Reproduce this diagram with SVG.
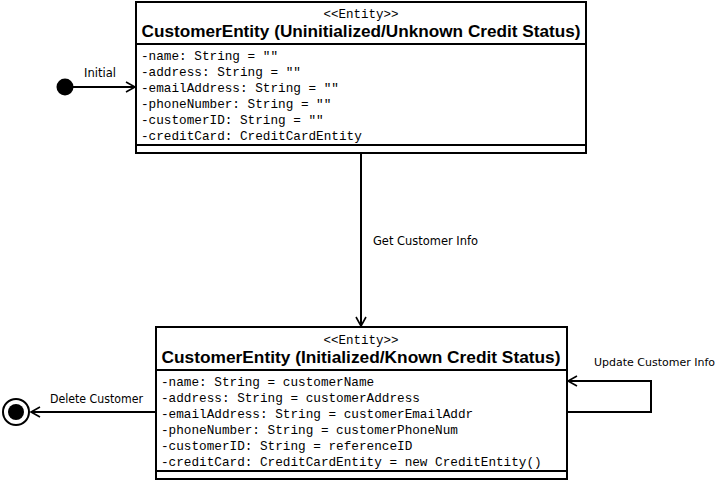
<svg xmlns="http://www.w3.org/2000/svg" width="721" height="481" viewBox="0 0 721 481">
<style>
.box{fill:#fff;stroke:#000;stroke-width:2}
.sep{stroke:#000;stroke-width:2}
.st{font-family:"Liberation Mono",monospace;font-size:12.5px;text-anchor:middle;fill:#000}
.ti{font-family:"Liberation Sans",Arial,sans-serif;font-size:17px;font-weight:bold;text-anchor:middle;fill:#000}
.at{font-family:"Liberation Mono",monospace;font-size:12.7px;fill:#000}
.lb{font-family:"DejaVu Sans","Liberation Sans",sans-serif;font-size:12px;fill:#000}
.cn{fill:none;stroke:#000;stroke-width:2}
</style>
<defs>
<marker id="arr" markerWidth="12" markerHeight="12" refX="10" refY="6" orient="auto" markerUnits="userSpaceOnUse">
<path d="M1,1 L10,6 L1,11" fill="none" stroke="#000" stroke-width="1.6"/>
</marker>
</defs>
<rect width="721" height="481" fill="#fff"/>
<g id="connectors">
<line class="cn" x1="73" y1="87" x2="135" y2="87" marker-end="url(#arr)"/>
<text class="lb" x="84" y="77" textLength="32" lengthAdjust="spacingAndGlyphs">Initial</text>
<line class="cn" x1="361" y1="153" x2="361" y2="326" marker-end="url(#arr)"/>
<text class="lb" x="373" y="245" textLength="105" lengthAdjust="spacingAndGlyphs">Get Customer Info</text>
<line class="cn" x1="156" y1="412" x2="31" y2="412" marker-end="url(#arr)"/>
<text class="lb" x="50" y="403" textLength="93" lengthAdjust="spacingAndGlyphs">Delete Customer</text>
<polyline class="cn" points="567,412 651,412 651,381 568,381" marker-end="url(#arr)"/>
<text class="lb" x="594" y="366" style="font-size:11px" textLength="121" lengthAdjust="spacingAndGlyphs">Update Customer Info</text>
</g>
<g id="initial">
<circle cx="65" cy="87" r="8.5" fill="#000"/>
</g>
<g id="final">
<circle cx="16" cy="412" r="13" fill="#fff" stroke="#000" stroke-width="2"/>
<circle cx="16" cy="412" r="8" fill="#000"/>
</g>
<g id="uninitialized">
<rect class="box" x="136" y="2" width="450" height="151"/>
<line class="sep" x1="136" y1="44" x2="586" y2="44"/>
<line class="sep" x1="136" y1="145" x2="586" y2="145"/>
<text class="st" x="361" y="18">&lt;&lt;Entity&gt;&gt;</text>
<text class="ti" x="361" y="37" textLength="439" lengthAdjust="spacingAndGlyphs">CustomerEntity (Uninitialized/Unknown Credit Status)</text>
<text class="at" x="141" y="60">-name: String = ""</text>
<text class="at" x="141" y="76">-address: String = ""</text>
<text class="at" x="141" y="92">-emailAddress: String = ""</text>
<text class="at" x="141" y="108">-phoneNumber: String = ""</text>
<text class="at" x="141" y="124">-customerID: String = ""</text>
<text class="at" x="141" y="140">-creditCard: CreditCardEntity</text>
</g>
<g id="initialized">
<rect class="box" x="156" y="327" width="411" height="152"/>
<line class="sep" x1="156" y1="370" x2="567" y2="370"/>
<line class="sep" x1="156" y1="471" x2="567" y2="471"/>
<text class="st" x="361" y="344">&lt;&lt;Entity&gt;&gt;</text>
<text class="ti" x="361" y="363" textLength="399" lengthAdjust="spacingAndGlyphs">CustomerEntity (Initialized/Known Credit Status)</text>
<text class="at" x="161" y="386">-name: String = customerName</text>
<text class="at" x="161" y="402">-address: String = customerAddress</text>
<text class="at" x="161" y="418">-emailAddress: String = customerEmailAddr</text>
<text class="at" x="161" y="434">-phoneNumber: String = customerPhoneNum</text>
<text class="at" x="161" y="450">-customerID: String = referenceID</text>
<text class="at" x="161" y="466">-creditCard: CreditCardEntity = new CreditEntity()</text>
</g>
</svg>
